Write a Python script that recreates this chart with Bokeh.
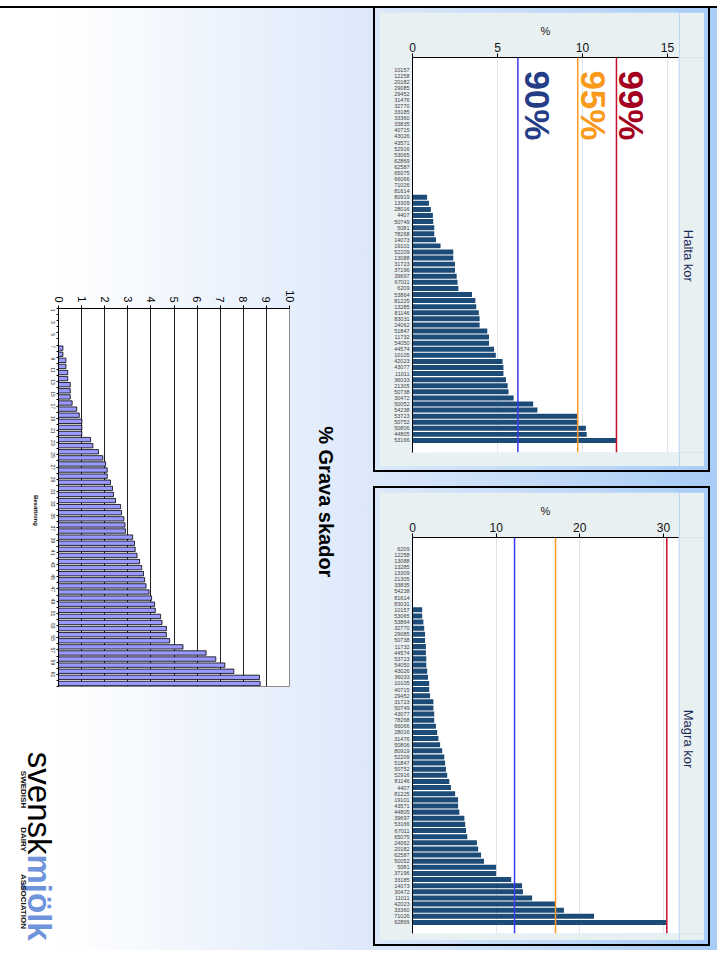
import math
from bokeh.plotting import figure
from bokeh.models import Range1d, FixedTicker, Label, Span, Spacer
from bokeh.layouts import row, column
from bokeh.embed import file_html
from bokeh.resources import INLINE

FONT = "Liberation Sans"
PANEL = "#e9f0f2"

# ---------------- data ----------------
# Left chart: % Grava skador per herd (sorted), herds numbered 1..62
grava_rank = list(range(1, 63))
grava_pct = [0, 0, 0, 0, 0, 0, 0.19, 0.19, 0.32, 0.32, 0.40, 0.40, 0.51, 0.51, 0.51,
             0.59, 0.79, 0.90, 1.01, 1.01, 1.01, 1.39, 1.49, 1.73, 1.92, 2.04, 2.11,
             2.11, 2.25, 2.34, 2.38, 2.47, 2.69, 2.73, 2.83, 2.88, 2.90, 3.21, 3.29,
             3.32, 3.40, 3.51, 3.60, 3.68, 3.73, 3.79, 3.92, 4.03, 4.16, 4.19, 4.42,
             4.48, 4.67, 4.67, 4.81, 5.39, 6.39, 6.81, 7.20, 7.59, 8.70, 8.73]
grava_ticks = list(range(0, 11))
grava_label_ticks = list(range(1, 62, 2))

# Halta kor
halta_herd = ["10157", "12258", "20182", "29085", "29452", "31476", "32770", "33185",
              "33360", "33835", "40715", "43026", "43571", "52916", "53065", "62869",
              "62587", "65075", "66066", "71026", "81614", "80919", "13309", "28016",
              "4407", "50749", "5081", "78268", "14073", "19101", "52209", "13088",
              "31723", "37196", "39697", "67011", "6209", "53864", "81225", "13285",
              "81146", "83031", "24062", "51847", "11732", "54050", "44574", "10105",
              "42023", "43077", "11011", "36033", "21305", "50738", "30472", "50052",
              "54238", "53723", "50752", "50806", "44805", "53166"]
halta_pct = [0] * 21 + [0.86, 0.97, 1.08, 1.2, 1.22, 1.28, 1.28, 1.38, 1.65,
                        2.4, 2.4, 2.5, 2.5, 2.6, 2.65, 2.7, 3.5, 3.7, 3.75, 3.9,
                        3.95, 3.95, 4.4, 4.5, 4.5, 4.8, 4.9, 5.3, 5.35, 5.35, 5.5,
                        5.6, 5.65, 5.95, 7.1, 7.35, 9.7, 9.75, 10.2, 10.25, 12.0]
halta_ticks = [0, 5, 10, 15]
halta_p90, halta_p95, halta_p99 = 6.2, 9.72, 12.0

# Magra kor
magra_herd = ["6209", "12258", "13088", "13285", "13309", "21305", "33835", "54238",
              "81614", "83031", "10157", "53065", "53864", "32770", "29085", "50738",
              "11732", "44574", "53723", "54050", "43026", "36033", "10105", "40715",
              "29452", "31723", "50749", "43077", "78268", "66066", "28016", "31476",
              "50806", "80919", "52209", "51847", "50752", "52916", "81146", "4407",
              "81225", "19101", "43571", "44805", "39697", "53166", "67011", "65075",
              "24062", "20182", "62587", "50052", "5081", "37196", "33185", "14073",
              "30472", "11011", "42023", "33360", "71026", "62869"]
magra_pct = [0] * 10 + [1.16, 1.16, 1.3, 1.4, 1.5, 1.5, 1.6, 1.6, 1.65, 1.65, 1.75,
                        1.85, 2.0, 2.0, 2.1, 2.5, 2.5, 2.6, 2.6, 2.8, 2.95, 3.1, 3.3,
                        3.55, 3.8, 3.9, 4.0, 4.15, 4.4, 4.6, 5.1, 5.45, 5.45, 5.6, 6.2,
                        6.3, 6.4, 6.55, 7.7, 7.85, 8.2, 8.55, 10.0, 10.0, 11.8, 13.1,
                        13.2, 14.3, 17.1, 18.1, 21.7, 30.3]
magra_ticks = [0, 10, 20, 30]
magra_p90, magra_p95, magra_p99 = 12.2, 17.1, 30.4


def rlabel(p, text, x, y, size, color, bold=False, align="center",
           baseline="middle", xo=0, yo=0):
    p.add_layout(Label(x=x, y=y, text=text, angle=-math.pi / 2,
                       text_font=FONT, text_font_size=f"{size}px",
                       text_color=color,
                       text_font_style="bold" if bold else "normal",
                       text_align=align, text_baseline=baseline,
                       x_offset=xo, y_offset=yo))


def canvas(w, h, fill=None):
    c = figure(width=w, height=h, x_range=Range1d(0, w), y_range=Range1d(h, 0),
               x_axis_location=None, y_axis_location=None,
               output_backend="svg", toolbar_location=None, min_border=0,
               outline_line_color=None)
    c.grid.visible = False
    if fill is None:
        c.background_fill_alpha = 0
        c.border_fill_alpha = 0
    else:
        c.background_fill_color = fill
        c.border_fill_color = fill
    return c


# ---------------- left chart ----------------
chart = figure(width=260, height=440, x_range=Range1d(0, 10),
               y_range=Range1d(62.5, 0.5), x_axis_location="above",
               output_backend="svg", toolbar_location=None,
               min_border_left=18, min_border_right=11, min_border_top=48,
               min_border_bottom=14, background_fill_color="white",
               border_fill_alpha=0, outline_line_color="#8c8c8c")
xa = chart.xaxis[0]
xa.ticker = FixedTicker(ticks=grava_ticks)
xa.major_label_orientation = -math.pi / 2
xa.major_label_text_font = FONT
xa.major_label_text_font_size = "11px"
xa.major_label_text_color = "#000"
xa.major_label_standoff = 3
xa.major_tick_out = 3
xa.major_tick_in = 0
xa.minor_tick_line_color = None
xa.axis_line_color = "#000"
ya = chart.yaxis[0]
ya.ticker = FixedTicker(ticks=grava_label_ticks,
                        minor_ticks=[k + 0.5 for k in range(0, 63)])
ya.major_label_orientation = -math.pi / 2
ya.major_label_text_font = FONT
ya.major_label_text_font_size = "5px"
ya.major_label_text_color = "#222"
ya.major_label_standoff = 4
ya.major_tick_out = 0
ya.major_tick_in = 0
ya.minor_tick_out = 2
ya.minor_tick_in = 0
ya.minor_tick_line_color = "#000"
ya.axis_line_color = "#000"
chart.xgrid.grid_line_color = "#222"
chart.ygrid.grid_line_color = None

gy = [r for r, v in zip(grava_rank, grava_pct) if v > 0]
gv = [v for v in grava_pct if v > 0]
chart.hbar(y=gy, right=gv, left=0, height=0.72, fill_color="#9999ff",
           line_color="#000", line_width=0.8)

bes = canvas(40, 440)
rlabel(bes, "Besättning", 35, 235, 6, "#000", bold=True)
ttl = canvas(72, 440)
rlabel(ttl, "% Grava skador", 25, 225, 20, "#000", bold=True)

logo = canvas(372, 250)
rlabel(logo, "svensk", 39, 154, 33, "#000", align="right", baseline="alphabetic")
rlabel(logo, "mjölk", 39, 154, 33, "#6f94dc", bold=True, align="left",
       baseline="alphabetic")
rlabel(logo, "SWEDISH", 23, 89, 8, "#111", bold=True, baseline="alphabetic")
rlabel(logo, "DAIRY", 23, 139, 8, "#111", bold=True, baseline="alphabetic")
rlabel(logo, "ASSOCIATION", 23, 201, 8, "#111", bold=True, baseline="alphabetic")

left_col = column(Spacer(height=252), row(bes, chart, ttl), logo)


# ---------------- right panels ----------------
def panel(herds, vals, xmax, ticks, pcts, pad, h, top, bottom, title):
    n = len(herds)
    pos = list(range(1, n + 1))
    p = figure(width=300, height=h, x_range=Range1d(0, xmax),
               y_range=Range1d(n + 0.5 + pad, 0.5 - pad),
               x_axis_location="above", output_backend="svg",
               toolbar_location=None, min_border_left=33, min_border_right=1,
               min_border_top=top, min_border_bottom=bottom,
               background_fill_color="white", border_fill_color=PANEL,
               outline_line_color=None)
    ax = p.xaxis[0]
    ax.ticker = FixedTicker(ticks=ticks)
    ax.axis_label = "%"
    ax.axis_label_text_font = FONT
    ax.axis_label_text_font_size = "11px"
    ax.axis_label_text_font_style = "normal"
    ax.axis_label_text_color = "#222"
    ax.axis_label_standoff = 3
    ax.major_label_text_font = FONT
    ax.major_label_text_font_size = "12px"
    ax.major_label_text_color = "#111"
    ax.major_label_standoff = 2
    ax.major_tick_out = 4
    ax.major_tick_in = 0
    ax.minor_tick_line_color = None
    ax.axis_line_color = "#000"
    ay = p.yaxis[0]
    ay.ticker = FixedTicker(ticks=pos)
    ay.major_label_overrides = {i: hname for i, hname in zip(pos, herds)}
    ay.major_label_text_font = FONT
    ay.major_label_text_font_size = "5.5px"
    ay.major_label_text_color = "#444"
    ay.major_label_standoff = 3
    ay.major_tick_out = 0
    ay.major_tick_in = 0
    ay.minor_tick_line_color = None
    ay.axis_line_color = "#000"
    p.xgrid.grid_line_color = "#dde7eb"
    p.ygrid.grid_line_color = None
    yy = [y for y, v in zip(pos, vals) if v > 0]
    vv = [v for v in vals if v > 0]
    p.hbar(y=yy, right=vv, left=0, height=0.82, fill_color="#1d4b77",
           line_color=None)
    for loc, col in zip(pcts, ["#3a3af5", "#ff9a28", "#c8102e"]):
        p.add_layout(Span(location=loc, dimension="height", line_color=col,
                          line_width=1.5))
    side = canvas(25, h, PANEL)
    rlabel(side, title, 9, 228, 13, "#1c2a58")
    box = row(p, side, styles={"outline": "2px solid #000",
                               "outline-offset": "4px"})
    return p, box


halta, halta_box = panel(halta_herd, halta_pct, 15.65, halta_ticks,
                         [halta_p90, halta_p95, halta_p99], 1.48, 454, 45, 14,
                         "Halta kor")
rlabel(halta, "90%", halta_p90, 6.9, 35, "#253c86", bold=True, xo=20)
rlabel(halta, "95%", halta_p95, 6.9, 35, "#f99a1c", bold=True, xo=16)
rlabel(halta, "99%", halta_p99, 6.9, 35, "#a3001f", bold=True, xo=15)

magra, magra_box = panel(magra_herd, magra_pct, 31.8, magra_ticks,
                         [magra_p90, magra_p95, magra_p99], 1.3, 448, 45, 7,
                         "Magra kor")

right_col = column(Spacer(height=4), halta_box, Spacer(height=26), magra_box)
main = row(left_col, Spacer(width=7), right_col, Spacer(width=13),
           styles={"background": "linear-gradient(to right, #ffffff 0%, #ffffff 8%, "
                                 "#eef4fd 30%, #dce8fa 52%, #c4dbf8 75%, #a7ccf6 100%)",
                   "box-shadow": "0 -2px 0 #000"})
root = column(Spacer(height=8), main)

open("out.html", "w").write(file_html(root, INLINE))
